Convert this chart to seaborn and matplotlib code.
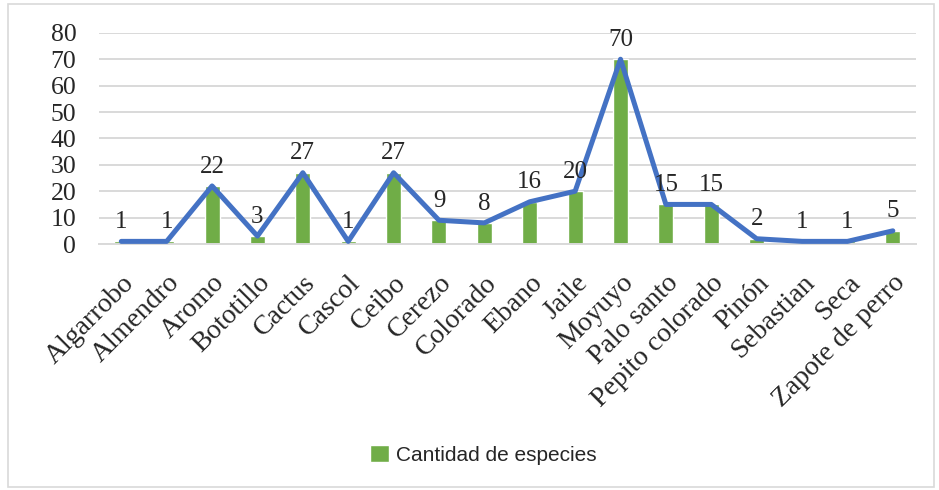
import numpy as np
import pandas as pd
import matplotlib
matplotlib.use('Agg')
import matplotlib.pyplot as plt
import seaborn as sns
from matplotlib.patches import Rectangle

# ── Data ────────────────────────────────────────────────────
species = ['Algarrobo', 'Almendro', 'Aromo', 'Bototillo', 'Cactus', 'Cascol',
           'Ceibo', 'Cerezo', 'Colorado', 'Ebano', 'Jaile', 'Moyuyo',
           'Palo santo', 'Pepito colorado', 'Pinón', 'Sebastian', 'Seca',
           'Zapote de perro']
counts = [1, 1, 22, 3, 27, 1, 27, 9, 8, 16, 20, 70, 15, 15, 2, 1, 1, 5]
y_ticks = [0, 10, 20, 30, 40, 50, 60, 70, 80]

df = pd.DataFrame({'Especie': species, 'Cantidad': counts})

sns.set_style('white')
plt.rcParams['font.family'] = ['Liberation Serif', 'DejaVu Serif']

fig = plt.figure(figsize=(9.39, 4.90), dpi=100)
ax = fig.add_axes([0.105, 0.502, 0.870, 0.431])

green = '#70AD47'
blue = '#4472C4'

sns.barplot(data=df, x='Especie', y='Cantidad', color=green, width=0.33,
            saturation=1, ax=ax, label='Cantidad de especies', zorder=2)
sns.lineplot(x=np.arange(len(species)), y=counts, color=blue, linewidth=3.6,
             ax=ax, zorder=3, legend=False)

# data labels
for i, v in enumerate(counts):
    ax.annotate(str(v), (i, v), xytext=(0, 6), textcoords='offset points',
                ha='center', va='bottom', fontsize=18)

ax.set_ylim(0, 80)
ax.set_xlim(-0.5, len(species) - 0.5)
ax.set_yticks(y_ticks)
ax.set_yticklabels([str(t) for t in y_ticks], fontsize=18.5)
ax.set_xticks(range(len(species)))
ax.set_xticklabels(species, rotation=45, ha='right', rotation_mode='anchor',
                   fontsize=20)
ax.tick_params(axis='x', length=0, pad=19)
ax.tick_params(axis='y', length=0, pad=16)
ax.set_xlabel('')
ax.set_ylabel('')
ax.yaxis.grid(True, color='#D9D9D9', linewidth=1.4, zorder=0)
ax.set_axisbelow(True)
for s in ['top', 'right', 'left']:
    ax.spines[s].set_visible(False)
ax.spines['bottom'].set_color('#D9D9D9')
ax.spines['bottom'].set_linewidth(1.4)

handles, labels = ax.get_legend_handles_labels()
leg = fig.legend(handles[:1], labels[:1], loc='center', bbox_to_anchor=(0.515, 0.072),
                 frameon=False, handlelength=0.9, handleheight=0.9,
                 handletextpad=0.35, prop={'family': 'Liberation Sans', 'size': 15})
if ax.get_legend() is not None:
    ax.get_legend().remove()

# chart border
fig.patches.append(Rectangle((0.008, 0.006), 0.987, 0.986, transform=fig.transFigure,
                             fill=False, edgecolor='#D9D9D9', linewidth=1.2))

fig.savefig('out.png', dpi=100)
